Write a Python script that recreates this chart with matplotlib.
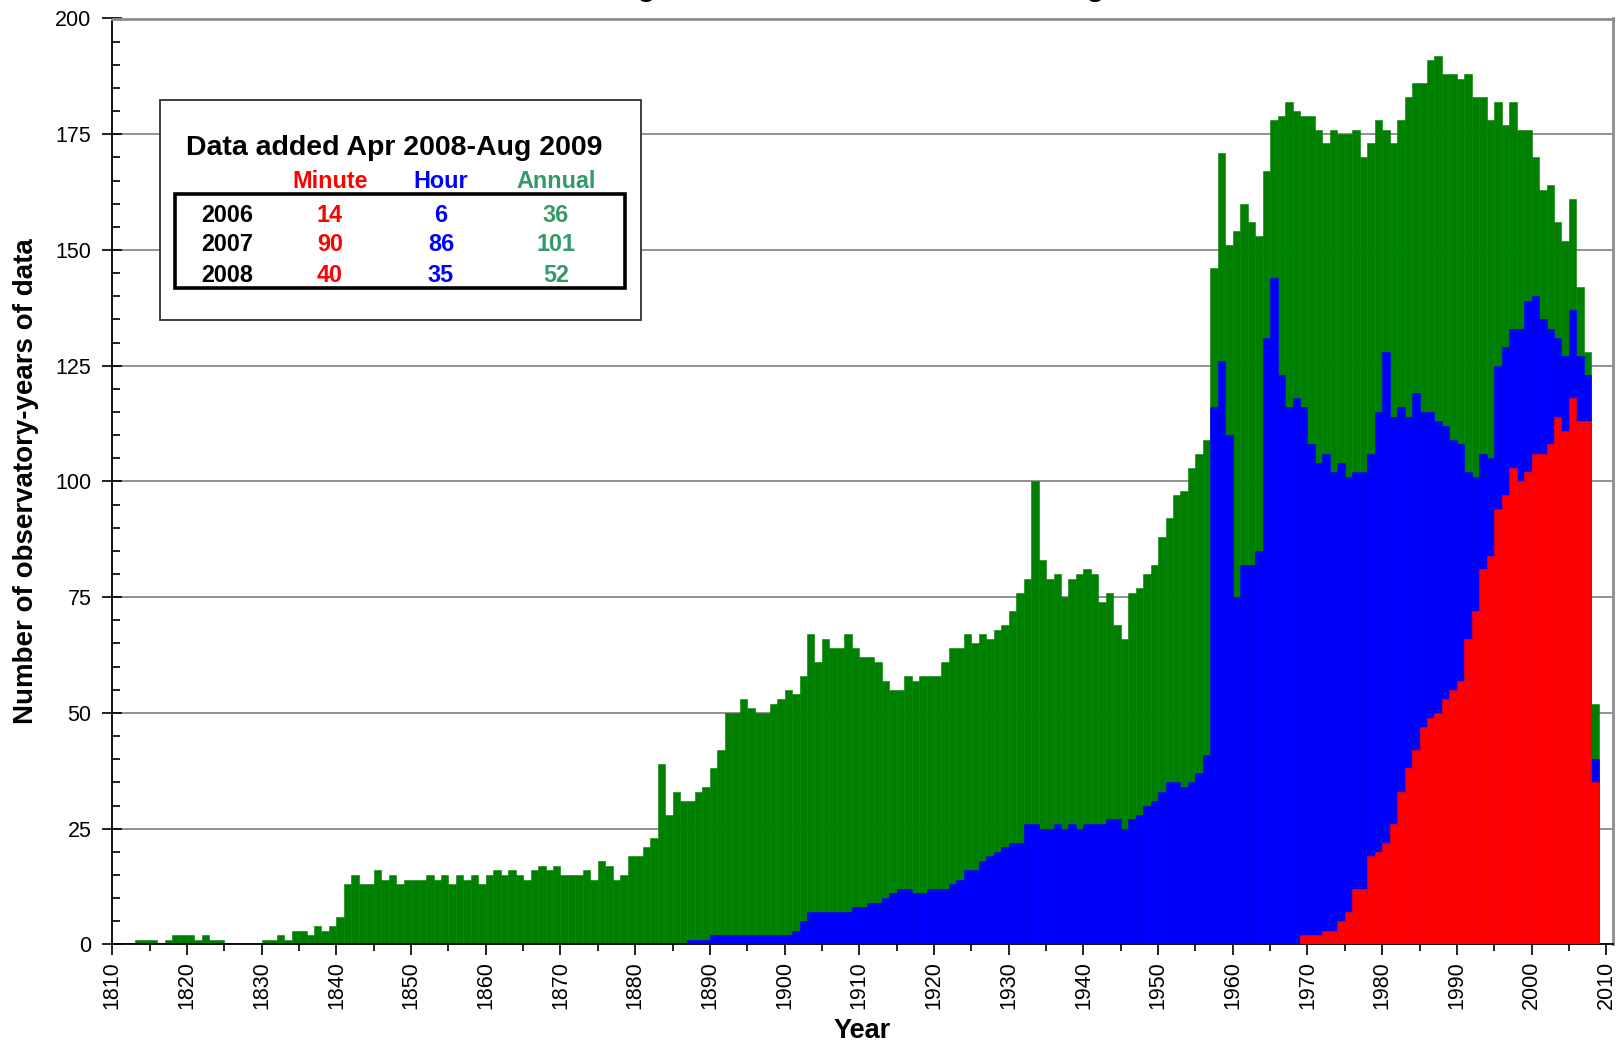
import matplotlib
matplotlib.use('Agg')
import matplotlib.pyplot as plt
from matplotlib.patches import Rectangle
from matplotlib.ticker import MultipleLocator
import numpy as np

plt.rcParams['font.family'] = ['Liberation Sans', 'DejaVu Sans']

# ---------------- data ----------------
title_text = "Data holdings at World Data Centre, Aug"

annual_start = 1810
annual = [
    0, 0, 0, 1, 1, 1, 0, 1, 2, 2,            # 1810-1819
    2, 1, 2, 1, 1, 0, 0, 0, 0, 0,            # 1820-1829
    1, 1, 2, 1, 3, 3, 2, 4, 3, 4,            # 1830-1839
    6, 13, 15, 13, 13, 16, 14, 15, 13, 14,   # 1840-1849
    14, 14, 15, 14, 15, 13, 15, 14, 15, 13,  # 1850-1859
    15, 16, 15, 16, 15, 14, 16, 17, 16, 17,  # 1860-1869
    15, 15, 15, 16, 14, 18, 17, 14, 15, 19,  # 1870-1879
    19, 21, 23, 39, 28, 33, 31, 31, 33, 34,  # 1880-1889
    38, 42, 50, 50, 53, 51, 50, 50, 52, 53,  # 1890-1899
    55, 54, 58, 67, 61, 66, 64, 64, 67, 64,  # 1900-1909
    62, 62, 61, 57, 55, 55, 58, 57, 58, 58,  # 1910-1919
    58, 61, 64, 64, 67, 65, 67, 66, 68, 69,  # 1920-1929
    72, 76, 79, 100, 83, 79, 80, 75, 79, 80, # 1930-1939
    81, 80, 74, 76, 69, 66, 76, 77, 80, 82,  # 1940-1949
    88, 92, 97, 98, 103, 106, 109, 146, 171, 151,   # 1950-1959
    154, 160, 156, 153, 167, 178, 179, 182, 180, 179,  # 1960-1969
    179, 176, 173, 176, 175, 175, 176, 170, 173, 178,  # 1970-1979
    176, 173, 178, 183, 186, 186, 191, 192, 188, 188,  # 1980-1989
    187, 188, 183, 183, 178, 182, 177, 182, 176, 176,  # 1990-1999
    170, 163, 164, 156, 152, 161, 142, 128, 52,        # 2000-2008
]

hour_start = 1887
hour = [
    1, 1, 1,                                  # 1887-1889
    2, 2, 2, 2, 2, 2, 2, 2, 2, 2,             # 1890-1899
    2, 3, 5, 7, 7, 7, 7, 7, 7, 8,             # 1900-1909
    8, 9, 9, 10, 11, 12, 12, 11, 11, 12,      # 1910-1919
    12, 12, 13, 14, 16, 16, 18, 19, 20, 21,   # 1920-1929
    22, 22, 26, 26, 25, 25, 26, 25, 26, 25,   # 1930-1939
    26, 26, 26, 27, 27, 25, 27, 28, 30, 31,   # 1940-1949
    33, 35, 35, 34, 35, 37, 41, 116, 126, 110,        # 1950-1959
    75, 82, 82, 85, 131, 144, 123, 116, 118, 116,     # 1960-1969
    108, 104, 106, 102, 104, 101, 102, 102, 106, 115, # 1970-1979
    128, 114, 116, 114, 119, 115, 115, 113, 112, 109, # 1980-1989
    108, 102, 101, 106, 105, 125, 129, 133, 133, 139, # 1990-1999
    140, 135, 133, 131, 127, 137, 127, 123, 40,       # 2000-2008
]

minute_start = 1969
minute = [
    2,                                        # 1969
    2, 2, 3, 3, 5, 7, 12, 12, 19, 20,         # 1970-1979
    22, 26, 33, 38, 42, 47, 49, 50, 53, 55,   # 1980-1989
    57, 66, 72, 81, 84, 94, 97, 103, 100, 102,  # 1990-1999
    106, 106, 108, 114, 111, 118, 113, 113, 35,  # 2000-2008
]

table_years = ["2006", "2007", "2008"]
table_minute = [14, 90, 40]
table_hour = [6, 86, 35]
table_annual = [36, 101, 52]

# ---------------- figure ----------------
W, H = 1622, 1046
fig = plt.figure(figsize=(W / 100, H / 100), dpi=100)

ax_left, ax_right, ax_top, ax_bottom = 112.3, 1613.0, 18.5, 944.4
ax = fig.add_axes([ax_left / W, 1 - ax_bottom / H,
                   (ax_right - ax_left) / W, (ax_bottom - ax_top) / H])

GREEN, BLUE, RED = '#008000', '#0000FF', '#FF0000'

yrs_a = np.arange(annual_start, annual_start + len(annual))
yrs_h = np.arange(hour_start, hour_start + len(hour))
yrs_m = np.arange(minute_start, minute_start + len(minute))

ax.bar(yrs_a, annual, width=1.0, align='edge', color=GREEN,
       edgecolor=GREEN, linewidth=0.4, zorder=2)
ax.bar(yrs_h, hour, width=1.0, align='edge', color=BLUE,
       edgecolor=BLUE, linewidth=0.4, zorder=3)
ax.bar(yrs_m, minute, width=1.0, align='edge', color=RED,
       edgecolor=RED, linewidth=0.4, zorder=4)

ax.set_xlim(1810, 2010.9)
ax.set_ylim(0, 200)

ax.xaxis.set_major_locator(MultipleLocator(10))
ax.xaxis.set_minor_locator(MultipleLocator(5))
ax.yaxis.set_major_locator(MultipleLocator(25))
ax.yaxis.set_minor_locator(MultipleLocator(5))

ax.set_axisbelow(True)
ax.yaxis.grid(True, which='major', color='#7f7f7f', linewidth=1.2, zorder=0)

ax.tick_params(axis='x', which='major', direction='out', length=8, width=1.2,
               labelsize=15.5, labelrotation=90, pad=4, colors='black')
ax.tick_params(axis='x', which='minor', direction='out', length=5, width=1.2)
ax.tick_params(axis='y', which='major', direction='inout', length=14, width=1.2,
               labelsize=15.5, pad=8)
ax.tick_params(axis='y', which='minor', direction='in', length=6, width=1.2)

for side in ('left', 'bottom'):
    ax.spines[side].set_color('black')
    ax.spines[side].set_linewidth(1.3)
for side in ('top', 'right'):
    ax.spines[side].set_color('#8c8c8c')
    ax.spines[side].set_linewidth(2.0)


def fx(px):
    return px / W


def fy(py):
    return 1 - py / H


fig.text(fx(26), fy(481), "Number of observatory-years of data", rotation=90,
         ha='center', va='center', fontsize=20, fontweight='bold')
fig.text(fx(862), fy(1031), "Year", ha='center', va='center',
         fontsize=19.5, fontweight='bold')

# title: as in the source image, only the lowest strokes remain inside the frame
fig.text(fx(780), fy(-6.5), title_text, ha='center', va='baseline', fontsize=26)

# ---------------- inset table ----------------
fig.patches.append(Rectangle((fx(160), fy(320)), fx(641) - fx(160), fy(100) - fy(320),
                             transform=fig.transFigure, facecolor='white',
                             edgecolor='#303030', linewidth=1.3, zorder=10))
fig.patches.append(Rectangle((fx(175), fy(288)), fx(625) - fx(175), fy(194) - fy(288),
                             transform=fig.transFigure, facecolor='none',
                             edgecolor='black', linewidth=2.6, zorder=11))

fig.text(fx(394), fy(148), "Data added Apr 2008-Aug 2009", ha='center', va='center',
         fontsize=20.5, fontweight='bold', zorder=12)

col_x = [330, 441, 556]
col_colors = [RED, BLUE, '#339966']
col_names = ["Minute", "Hour", "Annual"]
for cx, cc, cn in zip(col_x, col_colors, col_names):
    fig.text(fx(cx), fy(182), cn, ha='center', va='center', fontsize=16.8,
             fontweight='bold', color=cc, zorder=12)

row_y = [215.5, 244.5, 275.5]
for ry, yr, mv, hv, av in zip(row_y, table_years, table_minute, table_hour, table_annual):
    fig.text(fx(227), fy(ry), yr, ha='center', va='center', fontsize=16.8,
             fontweight='bold', color='black', zorder=12)
    for cx, cc, val in zip(col_x, col_colors, (mv, hv, av)):
        fig.text(fx(cx), fy(ry), str(val), ha='center', va='center', fontsize=16.8,
                 fontweight='bold', color=cc, zorder=12)

fig.savefig('out.png', dpi=100, facecolor='white')
